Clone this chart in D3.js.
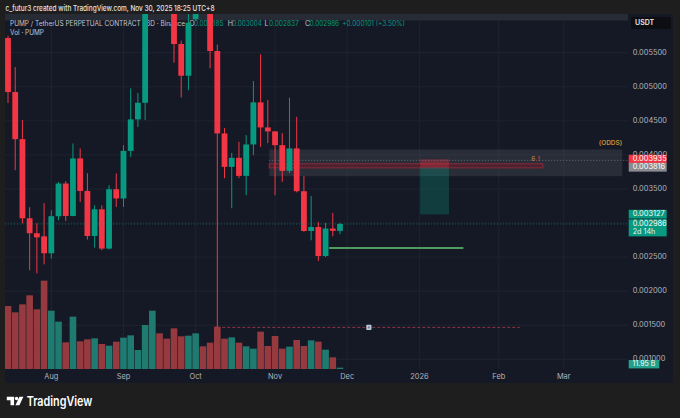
<!DOCTYPE html>
<html>
<head>
<meta charset="utf-8">
<script src="https://cdn.jsdelivr.net/npm/d3@7"></script>
<style>
  html, body { margin: 0; padding: 0; background: #1e1e1e; }
  svg { display: block; }
</style>
</head>
<body>
<div id="chart-container"></div>
<script>
/* global d3 */

// PUMP / USDT perpetual, 3D candles (Jul 15 - Nov 30, 2025)
const opens = [
  0.005716, 0.004922, 0.004231, 0.003070, 0.002850, 0.002805, 0.002556, 0.003100, 0.003580, 0.003104,
  0.003948, 0.003471, 0.002810, 0.003202, 0.002625, 0.003496, 0.003360, 0.004059, 0.004521, 0.004765,
  0.006600, 0.008200, 0.007400, 0.006700, 0.005628, 0.005162, 0.005991, 0.006800, 0.006400, 0.005525,
  0.004315, 0.003824, 0.003957, 0.003692, 0.004153, 0.004771, 0.004403, 0.004345, 0.004143, 0.003765,
  0.004095, 0.003467, 0.002883, 0.002942, 0.002516, 0.002919, 0.002885
];
const highs = [
  0.005750, 0.005290, 0.004511, 0.003232, 0.002996, 0.003290, 0.003188, 0.003604, 0.003614, 0.004168,
  0.004095, 0.003732, 0.003261, 0.003261, 0.003555, 0.003727, 0.004143, 0.004977, 0.004908, 0.006800,
  0.008800, 0.008600, 0.007700, 0.006900, 0.005676, 0.006200, 0.007100, 0.007000, 0.006600, 0.005620,
  0.004393, 0.004030, 0.004192, 0.004290, 0.005084, 0.005476, 0.004805, 0.004349, 0.004320, 0.004839,
  0.004559, 0.003692, 0.003398, 0.003016, 0.003001, 0.003148, 0.003004
];
const lows = [
  0.004761, 0.003776, 0.002996, 0.002306, 0.002262, 0.002394, 0.002478, 0.003041, 0.003030, 0.003100,
  0.003310, 0.002757, 0.002639, 0.002600, 0.002614, 0.003236, 0.003236, 0.003971, 0.004412, 0.004511,
  0.006400, 0.007100, 0.006300, 0.005353, 0.004844, 0.004952, 0.005980, 0.006200, 0.005271, 0.001468,
  0.003658, 0.003217, 0.003658, 0.003408, 0.003996, 0.004118, 0.004173, 0.003408, 0.003604, 0.003732,
  0.003450, 0.002870, 0.002747, 0.002442, 0.002501, 0.002806, 0.002837
];
const closes = [
  0.004922, 0.004231, 0.003070, 0.002850, 0.002790, 0.002556, 0.003100, 0.003580, 0.003104, 0.003948,
  0.003471, 0.002810, 0.003202, 0.002625, 0.003496, 0.003360, 0.004059, 0.004521, 0.004765, 0.006600,
  0.008200, 0.007400, 0.006700, 0.005628, 0.005162, 0.005941, 0.006800, 0.006400, 0.005525, 0.004315,
  0.003824, 0.003957, 0.003692, 0.004153, 0.004771, 0.004403, 0.004345, 0.004143, 0.003765, 0.004095,
  0.003467, 0.002883, 0.002942, 0.002516, 0.002919, 0.002885, 0.002986
];
// volume in billions of PUMP
const volumes = [
  567, 510, 582, 663, 537, 795, 525, 426, 240, 471,
  249, 267, 276, 225, 210, 246, 282, 303, 171, 396,
  525, 321, 273, 366, 294, 300, 321, 204, 237, 381,
  273, 285, 237, 204, 183, 336, 207, 297, 183, 201,
  261, 207, 258, 246, 174, 105, 11.95
];

// time axis: label text and the bar index it sits on (first bar of month)
const monthLabels = ["Aug", "Sep", "Oct", "Nov", "Dec", "2026", "Feb", "Mar"];
const monthBars = [6, 16, 26, 37, 47, 57, 68, 77];

const priceTicks = [0.001, 0.0015, 0.002, 0.0025, 0.003, 0.0035, 0.004, 0.0045, 0.005, 0.0055];

// drawings, in [bar index, price]
const zoneBox = [[36.2, 0.00408], [85.1, 0.003688]];
const redBand = [[36.2, 0.00387], [74.1, 0.00381]];
const stopLine = [[36.2, 0.00392], [90, 0.00392]];
const shortPos = { from: 57.1, to: 61.1, stop: 0.003935, entry: 0.003816, target: 0.003127 };
const supportLine = [[44.5, 0.002634], [63.1, 0.002634]];
const crashLow = [[29, 0.001468], [70.9, 0.001468]];
const noteIcon = [50, 0.001468];
const oddsLabel = [85.1, 0.00417];
const countLabel = [72.5, 0.003935];

// price scale badges
const priceBadges = [
  { price: 0.003935, fill: "#f23645" },
  { price: 0.003816, fill: "#8a8b90" },
  { price: 0.003127, fill: "#089981" },
  { price: 0.002986, fill: "#089981", sub: "2d 14h" }
];

function createCandleChart(selector) {
  const width = 680;
  const height = 418;
  const pane = { left: 5, right: 628, top: 14, bottom: 369, edge: 673, foot: 383 };
  const font = "Inter, 'Noto Sans', sans-serif";
  const up = "#089981";
  const down = "#f23645";

  const data = opens.map((o, i) => ({
    i, o, h: highs[i], l: lows[i], c: closes[i], v: volumes[i]
  }));

  // Scales
  const x = d3.scaleLinear().domain([0, 46]).range([8, 340]);
  const step = x(1) - x(0);
  const y = d3.scaleLinear().domain([0.001, 0.0055]).range([359.3, 52.7]);
  const yVol = d3.scaleLinear().domain([0, 900]).range([pane.bottom, pane.bottom - 100]);

  const svg = d3.select(selector)
    .append("svg")
    .attr("width", width)
    .attr("height", height)
    .style("font-family", font);

  svg.append("rect").attr("width", width).attr("height", height).attr("fill", "#1e1e1e");
  svg.append("rect")
    .attr("x", pane.left).attr("y", pane.top)
    .attr("width", pane.edge - pane.left).attr("height", pane.foot - pane.top)
    .attr("fill", "#151925");

  svg.append("clipPath").attr("id", "pane-clip")
    .append("rect")
    .attr("x", pane.left).attr("y", pane.top)
    .attr("width", pane.right - pane.left).attr("height", pane.bottom - pane.top);

  // Grid
  svg.append("g").selectAll("line").data(priceTicks).join("line")
    .attr("x1", pane.left).attr("x2", pane.right)
    .attr("y1", d => y(d)).attr("y2", d => y(d))
    .attr("stroke", "#1f2330").attr("stroke-width", 1);
  svg.append("g").selectAll("line").data(monthBars).join("line")
    .attr("x1", d => x(d)).attr("x2", d => x(d))
    .attr("y1", pane.top).attr("y2", pane.bottom)
    .attr("stroke", "#1f2330").attr("stroke-width", 1);

  // top band
  svg.append("rect")
    .attr("x", pane.left).attr("y", pane.top)
    .attr("width", pane.right - pane.left).attr("height", 6.5)
    .attr("fill", "#272b36");

  // Legend
  const legend = svg.append("g").attr("font-size", 7);
  legend.append("text")
    .attr("x", 10).attr("y", 25.5)
    .attr("fill", "#c3c6ce")
    .attr("textLength", 175).attr("lengthAdjust", "spacingAndGlyphs")
    .text("PUMP / TetherUS PERPETUAL CONTRACT · 3D · Binance");
  const last = data[data.length - 1];
  const ohlc = [
    { k: "O", v: last.o, x: 189.3 },
    { k: "H", v: last.h, x: 227.7 },
    { k: "L", v: last.l, x: 264.5 },
    { k: "C", v: last.c, x: 305 }
  ];
  ohlc.forEach(d => {
    legend.append("text").attr("x", d.x).attr("y", 25.5).attr("fill", "#c3c6ce").text(d.k);
    legend.append("text").attr("x", d.x + 4.6).attr("y", 25.5).attr("fill", up)
      .attr("textLength", 29.5).attr("lengthAdjust", "spacingAndGlyphs")
      .text(d.v.toFixed(6));
  });
  const chg = last.c - closes[closes.length - 2];
  legend.append("text").attr("x", 342.3).attr("y", 25.5).attr("fill", up)
    .attr("textLength", 62.5).attr("lengthAdjust", "spacingAndGlyphs")
    .text(`+${chg.toFixed(6)} (+${(chg / closes[closes.length - 2] * 100).toFixed(2)}%)`);
  legend.append("text")
    .attr("x", 10).attr("y", 34.8).attr("fill", "#c3c6ce")
    .attr("textLength", 34).attr("lengthAdjust", "spacingAndGlyphs")
    .text("Vol · PUMP");

  // Zone drawing
  svg.append("rect")
    .attr("x", x(zoneBox[0][0])).attr("y", y(zoneBox[0][1]))
    .attr("width", x(zoneBox[1][0]) - x(zoneBox[0][0]))
    .attr("height", y(zoneBox[1][1]) - y(zoneBox[0][1]))
    .attr("fill", "rgba(120,123,134,0.2)");

  svg.append("line")
    .attr("x1", x(stopLine[0][0])).attr("x2", pane.right)
    .attr("y1", y(stopLine[0][1])).attr("y2", y(stopLine[1][1]))
    .attr("stroke", "#6a6e7a").attr("stroke-width", 1).attr("stroke-dasharray", "1,2");

  svg.append("rect")
    .attr("x", x(redBand[0][0])).attr("y", y(redBand[0][1]))
    .attr("width", x(redBand[1][0]) - x(redBand[0][0]))
    .attr("height", y(redBand[1][1]) - y(redBand[0][1]))
    .attr("fill", "#4a2230").attr("stroke", "#7e2a3a").attr("stroke-width", 1.2);

  // Short position box
  svg.append("rect")
    .attr("x", x(shortPos.from)).attr("y", y(shortPos.stop))
    .attr("width", x(shortPos.to) - x(shortPos.from))
    .attr("height", y(shortPos.entry) - y(shortPos.stop))
    .attr("fill", "rgba(242,54,69,0.32)");
  svg.append("rect")
    .attr("x", x(shortPos.from)).attr("y", y(shortPos.entry))
    .attr("width", x(shortPos.to) - x(shortPos.from))
    .attr("height", y(shortPos.target) - y(shortPos.entry))
    .attr("fill", "rgba(8,153,129,0.28)");

  svg.append("text")
    .attr("x", x(countLabel[0])).attr("y", y(countLabel[1]))
    .attr("dominant-baseline", "middle")
    .attr("font-size", 6.5).attr("fill", "#c98f38").text("6");
  svg.append("text")
    .attr("x", x(countLabel[0]) + 6.5).attr("y", y(countLabel[1]))
    .attr("dominant-baseline", "middle")
    .attr("font-size", 6.5).attr("font-weight", 700).attr("fill", "#e0303f").text("!");
  svg.append("text")
    .attr("x", x(oddsLabel[0])).attr("y", y(oddsLabel[1]))
    .attr("text-anchor", "end").attr("dominant-baseline", "middle")
    .attr("font-size", 6.5).attr("font-weight", 600).attr("fill", "#c98f38")
    .text("(ODDS)");

  // Volume
  svg.append("g").attr("clip-path", "url(#pane-clip)")
    .selectAll("rect").data(data).join("rect")
    .attr("x", d => x(d.i) - step / 2 + 0.3)
    .attr("width", step - 0.6)
    .attr("y", d => yVol(d.v))
    .attr("height", d => pane.bottom - yVol(d.v))
    .attr("fill", d => d.c >= d.o ? "#1f7a70" : "#963a40");

  // support line and crash low
  svg.append("line")
    .attr("x1", x(supportLine[0][0])).attr("x2", x(supportLine[1][0]))
    .attr("y1", y(supportLine[0][1])).attr("y2", y(supportLine[1][1]))
    .attr("stroke", "#4f9a5c").attr("stroke-width", 2);
  svg.append("line")
    .attr("x1", x(crashLow[0][0])).attr("x2", x(crashLow[1][0]))
    .attr("y1", y(crashLow[0][1])).attr("y2", y(crashLow[1][1]))
    .attr("stroke", "#8e3246").attr("stroke-width", 1).attr("stroke-dasharray", "3,2");
  svg.append("rect")
    .attr("x", x(noteIcon[0]) - 2.6).attr("y", y(noteIcon[1]) - 2.6)
    .attr("width", 5.2).attr("height", 5.2).attr("rx", 0.8)
    .attr("fill", "#b9c8d8");
  svg.append("rect")
    .attr("x", x(noteIcon[0]) - 1).attr("y", y(noteIcon[1]) - 1)
    .attr("width", 2).attr("height", 2)
    .attr("fill", "#6a829c");

  // Candles
  const candles = svg.append("g").attr("clip-path", "url(#pane-clip)")
    .selectAll("g").data(data).join("g");
  candles.append("line")
    .attr("x1", d => x(d.i)).attr("x2", d => x(d.i))
    .attr("y1", d => y(d.h)).attr("y2", d => y(d.l))
    .attr("stroke", d => d.c >= d.o ? up : down)
    .attr("stroke-width", 1);
  candles.append("rect")
    .attr("x", d => x(d.i) - 2.9)
    .attr("width", 5.8)
    .attr("y", d => y(Math.max(d.o, d.c)))
    .attr("height", d => Math.max(1, Math.abs(y(d.o) - y(d.c))))
    .attr("fill", d => d.c >= d.o ? up : down);

  // last price line
  svg.append("line")
    .attr("x1", pane.left).attr("x2", pane.right)
    .attr("y1", y(last.c)).attr("y2", y(last.c))
    .attr("stroke", up).attr("stroke-opacity", 0.55)
    .attr("stroke-dasharray", "1,2");

  // Price axis
  svg.append("g").selectAll("text").data(priceTicks).join("text")
    .attr("x", 632.7).attr("y", d => y(d))
    .attr("dominant-baseline", "middle")
    .attr("font-size", 7.4).attr("fill", "#b2b5be")
    .text(d => d.toFixed(6));

  priceBadges.forEach(b => {
    const cy = y(b.price);
    const h = b.sub ? 17 : 8.8;
    svg.append("rect")
      .attr("x", 628.7).attr("y", cy - 4.6)
      .attr("width", 38).attr("height", h)
      .attr("fill", b.fill);
    svg.append("text")
      .attr("x", 632.7).attr("y", cy)
      .attr("dominant-baseline", "middle")
      .attr("font-size", 7.4).attr("fill", "#ffffff")
      .text(b.price.toFixed(6));
    if (b.sub) {
      svg.append("text")
        .attr("x", 632.7).attr("y", cy + 7.6)
        .attr("dominant-baseline", "middle")
        .attr("font-size", 7.2).attr("fill", "#e6f4f1")
        .text(b.sub);
    }
  });

  // volume badge
  const vy = Math.min(yVol(last.v), 364.2);
  svg.append("rect")
    .attr("x", 628.7).attr("y", vy - 4.2)
    .attr("width", 30.6).attr("height", 8.4)
    .attr("fill", "#22a08a");
  svg.append("text")
    .attr("x", 644).attr("y", vy)
    .attr("text-anchor", "middle").attr("dominant-baseline", "middle")
    .attr("font-size", 7).attr("fill", "#ffffff")
    .text(`${last.v.toFixed(2)} B`);

  // USDT box
  svg.append("rect")
    .attr("x", 631).attr("y", 17).attr("width", 40).attr("height", 12).attr("rx", 1.5)
    .attr("fill", "#0c0e13");
  svg.append("text")
    .attr("x", 635).attr("y", 23.3).attr("dominant-baseline", "middle")
    .attr("font-size", 7).attr("font-weight", 600).attr("fill", "#e8e9ec")
    .text("USDT");

  // Time axis
  svg.append("g").selectAll("text").data(monthLabels).join("text")
    .attr("x", (d, k) => x(monthBars[k]))
    .attr("y", 377.3)
    .attr("text-anchor", "middle").attr("dominant-baseline", "middle")
    .attr("font-size", 7.4).attr("fill", "#b2b5be")
    .text(d => d);

  // Header
  svg.append("text")
    .attr("x", 5.5).attr("y", 10.6)
    .attr("font-size", 7.6).attr("font-weight", 500).attr("fill", "#e4e4e4")
    .attr("textLength", 209).attr("lengthAdjust", "spacingAndGlyphs")
    .text("c_futur3 created with TradingView.com, Nov 30, 2025 18:25 UTC+8");

  // Footer logo
  const logo = svg.append("g").attr("transform", "translate(6.8,396.8)").attr("fill", "#ffffff");
  logo.append("path").attr("d", "M0,0 H7.3 V8.5 H3.7 V3.4 H0 Z");
  logo.append("circle").attr("cx", 9.7).attr("cy", 1.75).attr("r", 1.75);
  logo.append("path").attr("d", "M12.6,0 H16.6 L12.6,8.5 H8.6 Z");
  svg.append("text")
    .attr("x", 26.7).attr("y", 405.6)
    .attr("font-size", 13).attr("font-weight", 600).attr("fill", "#ffffff")
    .attr("textLength", 65.6).attr("lengthAdjust", "spacingAndGlyphs")
    .text("TradingView");
}

createCandleChart("#chart-container");
</script>
</body>
</html>
